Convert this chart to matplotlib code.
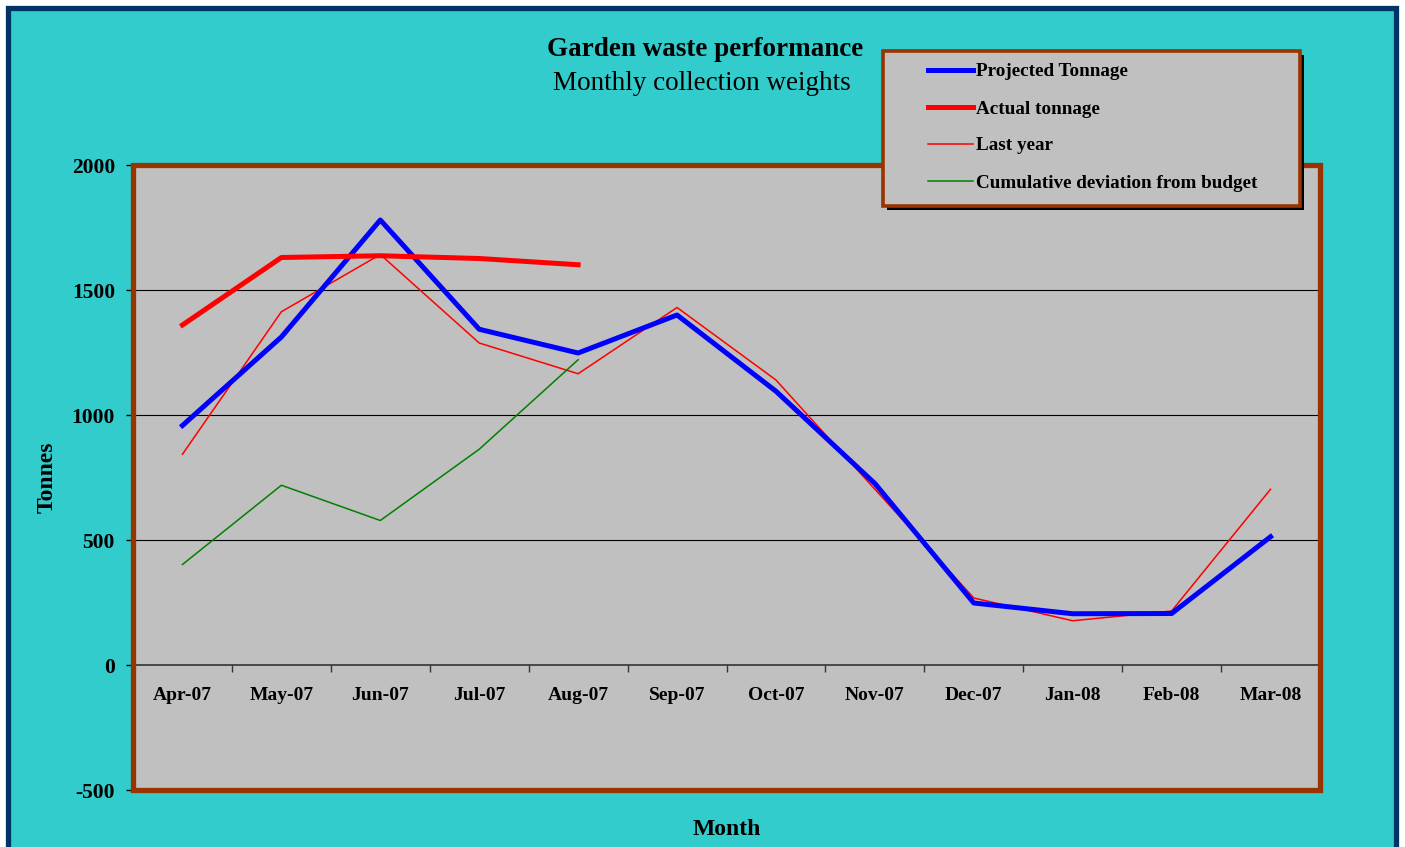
import numpy as np
import matplotlib.pyplot as plt
from matplotlib.patches import Rectangle
from matplotlib.lines import Line2D

months = ["Apr-07", "May-07", "Jun-07", "Jul-07", "Aug-07", "Sep-07",
          "Oct-07", "Nov-07", "Dec-07", "Jan-08", "Feb-08", "Mar-08"]
projected = [958, 1312, 1780, 1343, 1248, 1400, 1095, 726, 248, 205, 206, 513]
actual = [1360, 1630, 1637, 1626, 1601]
last_year = [843, 1413, 1642, 1288, 1165, 1430, 1140, 703, 268, 177, 216, 703]
cum_dev = [402, 719, 578, 863, 1221]

plt.rcParams["axes.unicode_minus"] = False
serif = "Liberation Serif"
brown = "#993300"
W, H = 1405, 847

fig = plt.figure(figsize=(14.05, 8.47), dpi=100, facecolor="white")
# cyan chart area with navy frame
fig.add_artist(Rectangle((8.0 / W, -0.05), (1395.5 - 8.0) / W, (839 / H) + 0.05,
                         transform=fig.transFigure, facecolor="#33CCCC",
                         edgecolor="#003366", lw=3.8, zorder=0))

ax = fig.add_axes([133 / W, (H - 790) / H, (1320 - 133) / W, (790 - 165) / H])
ax.set_facecolor("#C0C0C0")
x = np.arange(len(months))

ax.plot(x, last_year, color="red", lw=1.1, zorder=3)
ax.plot(x[:len(cum_dev)], cum_dev, color="#008000", lw=1.1, zorder=3)
ax.plot(x, projected, color="blue", lw=3.6, zorder=4)
ax.plot(x[:len(actual)], actual, color="red", lw=3.6, zorder=4)

ax.set_xlim(-0.5, 11.5)
ax.set_ylim(-500, 2000)
for v in [500, 1000, 1500]:
    ax.axhline(v, color="black", lw=0.8, zorder=1)

# spines
ax.spines["top"].set_visible(False)
ax.spines["right"].set_visible(False)
ax.spines["bottom"].set_position(("data", 0))
ax.spines["bottom"].set_color("#333333")
ax.spines["bottom"].set_linewidth(1.2)
ax.spines["left"].set_color("black")
ax.spines["left"].set_linewidth(1.0)

# brown frame around plot area
ax.add_patch(Rectangle((0, 0), 1, 1, transform=ax.transAxes, fill=False,
                       edgecolor=brown, lw=3.8, clip_on=False, zorder=5))

ax.set_yticks([-500, 0, 500, 1000, 1500, 2000])
ax.tick_params(axis="y", direction="out", length=5, width=1, pad=8)
ax.set_xticks(x)
ax.set_xticklabels(months)
ax.set_xticks(np.arange(-0.5, 12, 1), minor=True)
ax.tick_params(axis="x", which="major", length=0, pad=15.5)
ax.tick_params(axis="x", which="minor", direction="out", length=5, width=1, color="#333333")
for lab in ax.get_xticklabels() + ax.get_yticklabels():
    lab.set_fontfamily(serif)
    lab.set_fontweight("bold")
    lab.set_fontsize(14)
for lab in ax.get_yticklabels():
    lab.set_fontsize(15.5)

# titles and axis labels
fig.text(705 / W, 1 - 50 / H, "Garden waste performance", family=serif,
         weight="bold", fontsize=19.5, ha="center", va="center")
fig.text(702 / W, 1 - 83 / H, "Monthly collection weights", family=serif,
         fontsize=19.5, ha="center", va="center")
fig.text(47 / W, 1 - 477 / H, "Tonnes", family=serif, weight="bold",
         fontsize=17, rotation=90, ha="center", va="center")
fig.text(727 / W, 1 - 829 / H, "Month", family=serif, weight="bold",
         fontsize=17, ha="center", va="center")

# legend box drawn by hand
lx0, ly0, lx1, ly1 = 883, 51, 1300, 206
fig.add_artist(Rectangle(((lx0 + 4) / W, 1 - (ly1 + 4) / H), (lx1 - lx0) / W,
                         (ly1 - ly0) / H, transform=fig.transFigure,
                         facecolor="black", edgecolor="none", zorder=6))
fig.add_artist(Rectangle((lx0 / W, 1 - ly1 / H), (lx1 - lx0) / W, (ly1 - ly0) / H,
                         transform=fig.transFigure, facecolor="#C0C0C0",
                         edgecolor=brown, lw=2.6, zorder=7))
entries = [("Projected Tonnage", "blue", 3.6), ("Actual tonnage", "red", 3.6),
           ("Last year", "red", 1.1), ("Cumulative deviation from budget", "#008000", 1.1)]
for i, (name, col, lw) in enumerate(entries):
    yy = 1 - (70 + i * 37) / H
    fig.add_artist(Line2D([928 / W, 973 / W], [yy, yy], transform=fig.transFigure,
                          color=col, lw=lw, zorder=8))
    fig.text(976 / W, yy - 2 / H, name, family=serif, weight="bold", fontsize=13.8,
             ha="left", va="center", zorder=8)

fig.savefig("out.png", dpi=100, facecolor=fig.get_facecolor())
